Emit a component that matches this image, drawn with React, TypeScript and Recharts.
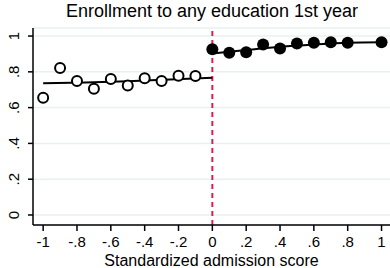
import { ComposedChart, Scatter, Line, XAxis, YAxis, CartesianGrid, ReferenceLine } from "recharts";

// binned means, below cutoff (hollow) and above cutoff (filled)
const leftX = [-1, -0.9, -0.8, -0.7, -0.6, -0.5, -0.4, -0.3, -0.2, -0.1];
const leftY = [0.655, 0.821, 0.749, 0.706, 0.76, 0.724, 0.764, 0.749, 0.778, 0.777];
const rightX = [0, 0.1, 0.2, 0.3, 0.4, 0.5, 0.6, 0.7, 0.8, 1];
const rightY = [0.926, 0.907, 0.909, 0.953, 0.931, 0.959, 0.963, 0.965, 0.963, 0.966];

// fitted lines
const fitLeftX = [-1, -0.75, -0.5, -0.25, 0];
const fitLeftY = [0.736, 0.741, 0.748, 0.757, 0.767];
const fitRightX = [0, 0.2, 0.4, 0.6, 0.8, 1];
const fitRightY = [0.903, 0.922, 0.94, 0.953, 0.963, 0.966];

const xTicks = [-1, -0.8, -0.6, -0.4, -0.2, 0, 0.2, 0.4, 0.6, 0.8, 1];
const yTicks = [0, 0.2, 0.4, 0.6, 0.8, 1];

const title = "Enrollment to any education 1st year";
const xLabel = "Standardized admission score";

const fmt = (v: number) => {
  if (v === 0) return "0";
  const s = String(Math.round(v * 10) / 10);
  return s.replace("0.", ".");
};

const zip = (xs: number[], ys: number[]) => xs.map((x, i) => ({ x, y: ys[i] }));

const FONT = "Liberation Sans, Arial, sans-serif";

const YTick = (props: any) => {
  const { x, y, payload } = props;
  return (
    <text
      x={x - 7}
      y={y}
      transform={`rotate(-90 ${x - 7} ${y})`}
      textAnchor="middle"
      fontSize={15}
      fontFamily={FONT}
      fill="#000"
    >
      {fmt(payload.value)}
    </text>
  );
};

const XTick = (props: any) => {
  const { x, y, payload } = props;
  return (
    <text x={x} y={y + 14} textAnchor="middle" fontSize={15} fontFamily={FONT} fill="#000">
      {fmt(payload.value)}
    </text>
  );
};

const App = () => {
  return (
    <div style={{ position: "absolute", left: 0, top: 0, width: 390, height: 268, background: "#fff" }}>
      <div
        style={{
          position: "absolute",
          left: 0,
          top: 1,
          width: 424,
          textAlign: "center",
          fontFamily: FONT,
          fontSize: 18,
          color: "#000",
        }}
      >
        {title}
      </div>
      <ComposedChart width={390} height={268} margin={{ top: 28, right: 0, bottom: 0, left: 0 }}>
        <CartesianGrid horizontal vertical={false} stroke="#e8f0f2" strokeWidth={1.5} />
        <XAxis
          type="number"
          dataKey="x"
          domain={[-1.06, 1.05]}
          ticks={xTicks}
          height={43}
          stroke="#000"
          strokeWidth={1.5}
          tickSize={6}
          tick={<XTick />}
          allowDataOverflow
          label={{ value: xLabel, position: "insideBottom", offset: 2, fontSize: 16, fontFamily: FONT, fill: "#000" }}
        />
        <YAxis
          type="number"
          dataKey="y"
          domain={[-0.056, 1.045]}
          ticks={yTicks}
          width={33}
          stroke="#000"
          strokeWidth={1.5}
          tickSize={5}
          tick={<YTick />}
          allowDataOverflow
        />
        <ReferenceLine x={0} stroke="#dc1e50" strokeWidth={2} strokeDasharray="5 4" />
        <Line
          data={zip(fitLeftX, fitLeftY)}
          dataKey="y"
          type="monotone"
          stroke="#000"
          strokeWidth={2}
          dot={false}
          isAnimationActive={false}
        />
        <Line
          data={zip(fitRightX, fitRightY)}
          dataKey="y"
          type="monotone"
          stroke="#000"
          strokeWidth={2}
          dot={false}
          isAnimationActive={false}
        />
        <Scatter
          data={zip(leftX, leftY)}
          isAnimationActive={false}
          shape={(p: any) => <circle cx={p.cx} cy={p.cy} r={5} fill="#fff" stroke="#000" strokeWidth={2} />}
        />
        <Scatter
          data={zip(rightX, rightY)}
          isAnimationActive={false}
          shape={(p: any) => <circle cx={p.cx} cy={p.cy} r={6} fill="#000" />}
        />
      </ComposedChart>
    </div>
  );
};

export default App;
